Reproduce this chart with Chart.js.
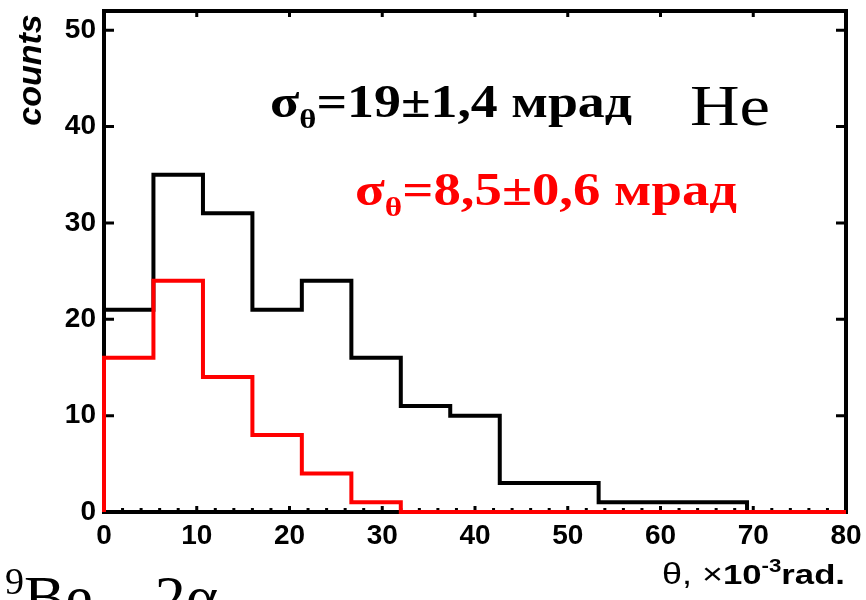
<!DOCTYPE html>
<html>
<head>
<meta charset="utf-8">
<script src="https://cdn.jsdelivr.net/npm/chart.js@4/dist/chart.umd.min.js"></script>
<style>
  html, body { margin: 0; padding: 0; background: #fff; }
  #wrap { width: 866px; height: 600px; }
</style>
</head>
<body>
<div id="wrap"><canvas id="hist" width="866" height="600"></canvas></div>
<script>
// ---- data ----
const binEdges = [0, 5.33, 10.67, 16, 21.33, 26.67, 32, 37.33, 42.67, 48, 53.33, 58.67, 64, 69.33, 74.67, 80];
const countsAll = [21, 35, 31, 21, 24, 16, 11, 10, 3, 3, 1, 1, 1, 0, 0];   // black, He
const countsSel = [16, 24, 14, 8, 4, 1, 0, 0, 0, 0, 0, 0, 0, 0, 0];        // red
const xTickValues = [0, 10, 20, 30, 40, 50, 60, 70, 80];
const yTickValues = [0, 10, 20, 30, 40, 50];

const SANS = "'Liberation Sans', Arial, sans-serif";
const SERIF = "'Liberation Serif', 'Times New Roman', serif";

// histogram outline: start at 0, one point per left edge, close at the last edge
function histPoints(counts) {
    const pts = [{ x: binEdges[0], y: 0 }];
    counts.forEach((c, i) => pts.push({ x: binEdges[i], y: c }));
    pts.push({ x: binEdges[binEdges.length - 1], y: counts[counts.length - 1] });
    return pts;
}

// draw text pieces one after another, stretched to a given width
function drawRuns(ctx, runs, x, y, width, color) {
    let total = 0;
    runs.forEach(r => { ctx.font = r.font; r.w = ctx.measureText(r.t).width; total += r.w; });
    const k = width ? width / total : 1;
    ctx.save();
    ctx.fillStyle = color;
    ctx.textBaseline = 'alphabetic';
    ctx.textAlign = 'left';
    ctx.translate(x, y);
    ctx.scale(k, 1);
    let cx = 0;
    runs.forEach(r => {
        ctx.font = r.font;
        ctx.fillText(r.t, cx, r.dy || 0);
        cx += r.w;
    });
    ctx.restore();
}

const framePlugin = {
    id: 'frame',
    beforeDatasetsDraw(chart) {
        const { ctx, chartArea: a, scales: { x, y } } = chart;
        ctx.save();
        ctx.strokeStyle = '#000';
        ctx.lineCap = 'square';
        ctx.lineWidth = 4;
        ctx.beginPath();
        ctx.moveTo(a.left, a.top);
        ctx.lineTo(a.right, a.top);
        ctx.lineTo(a.right, a.bottom);
        ctx.stroke();

        ctx.lineCap = 'butt';
        ctx.lineWidth = 3;
        ctx.beginPath();
        yTickValues.forEach(v => {
            const py = y.getPixelForValue(v);
            ctx.moveTo(a.left, py); ctx.lineTo(a.left + 10, py);
            ctx.moveTo(a.right, py); ctx.lineTo(a.right - 10, py);
        });
        xTickValues.forEach(v => {
            const px = x.getPixelForValue(v);
            ctx.moveTo(px, a.bottom); ctx.lineTo(px, a.bottom - 6);
            ctx.moveTo(px, a.top); ctx.lineTo(px, a.top + 6);
        });
        for (let v = 2; v < 80; v += 2) {
            const px = x.getPixelForValue(v);
            ctx.moveTo(px, a.bottom); ctx.lineTo(px, a.bottom - 4);
        }
        ctx.stroke();
        ctx.restore();
    },
    afterDraw(chart) {
        const ctx = chart.ctx;
        // y title
        ctx.save();
        ctx.translate(41, 70);
        ctx.rotate(-Math.PI / 2);
        ctx.font = 'italic bold 34px ' + SANS;
        ctx.fillStyle = '#000';
        ctx.textAlign = 'center';
        ctx.textBaseline = 'alphabetic';
        ctx.fillText('counts', 0, 0);
        ctx.restore();

        // x title
        drawRuns(ctx, [
            { t: 'θ, ×', font: '29px ' + SANS },
            { t: '10', font: 'bold 28px ' + SANS },
            { t: '-3', font: 'bold 18px ' + SANS, dy: -12 },
            { t: 'rad.', font: 'bold 28px ' + SANS }
        ], 662, 584, 183, '#000');

        // annotations
        drawRuns(ctx, [
            { t: 'σ', font: 'bold 46px ' + SERIF },
            { t: 'θ', font: 'bold 28px ' + SERIF, dy: 11 },
            { t: '=19±1,4 мрад', font: 'bold 46px ' + SERIF }
        ], 270, 117, 362, '#000');
        drawRuns(ctx, [{ t: 'He', font: '58px ' + SERIF }], 690, 125, 80, '#000');
        drawRuns(ctx, [
            { t: 'σ', font: 'bold 46px ' + SERIF },
            { t: 'θ', font: 'bold 28px ' + SERIF, dy: 11 },
            { t: '=8,5±0,6 мрад', font: 'bold 46px ' + SERIF }
        ], 355, 205, 382, '#ff0000');

        // reaction label, cut by the bottom edge
        drawRuns(ctx, [
            { t: '9', font: '38px ' + SERIF, dy: -24 },
            { t: 'Be→2α', font: '62px ' + SERIF }
        ], 5, 618, 0, '#000');
    }
};

new Chart(document.getElementById('hist'), {
    type: 'line',
    data: {
        datasets: [
            {
                label: 'red',
                data: histPoints(countsSel),
                borderColor: '#ff0000',
                borderWidth: 4,
                stepped: true,
                pointRadius: 0,
                fill: false,
                order: 0,
                clip: 6
            },
            {
                label: 'black',
                data: histPoints(countsAll),
                borderColor: '#000',
                borderWidth: 4,
                stepped: true,
                pointRadius: 0,
                fill: false,
                order: 1,
                clip: 6
            }
        ]
    },
    options: {
        responsive: false,
        animation: false,
        devicePixelRatio: 1,
        layout: { padding: { top: 11, right: 20, left: 0, bottom: 0 } },
        plugins: { legend: { display: false }, tooltip: { enabled: false } },
        scales: {
            x: {
                type: 'linear',
                min: 0,
                max: 80,
                afterFit: s => { s.height = 88; s.paddingLeft = 0; s.paddingRight = 0; },
                ticks: {
                    stepSize: 10,
                    maxRotation: 0,
                    padding: 7,
                    color: '#000',
                    font: { family: SANS, weight: 'bold', size: 28 }
                },
                grid: { drawOnChartArea: false, drawTicks: false },
                border: { display: true, width: 4, color: '#000' }
            },
            y: {
                min: 0,
                max: 52,
                afterFit: s => { s.width = 104; s.paddingTop = 0; s.paddingBottom = 0; },
                ticks: {
                    stepSize: 10,
                    includeBounds: false,
                    padding: 8,
                    color: '#000',
                    font: { family: SANS, weight: 'bold', size: 28 }
                },
                grid: { drawOnChartArea: false, drawTicks: false },
                border: { display: true, width: 4, color: '#000' }
            }
        }
    },
    plugins: [framePlugin]
});
</script>
</body>
</html>
